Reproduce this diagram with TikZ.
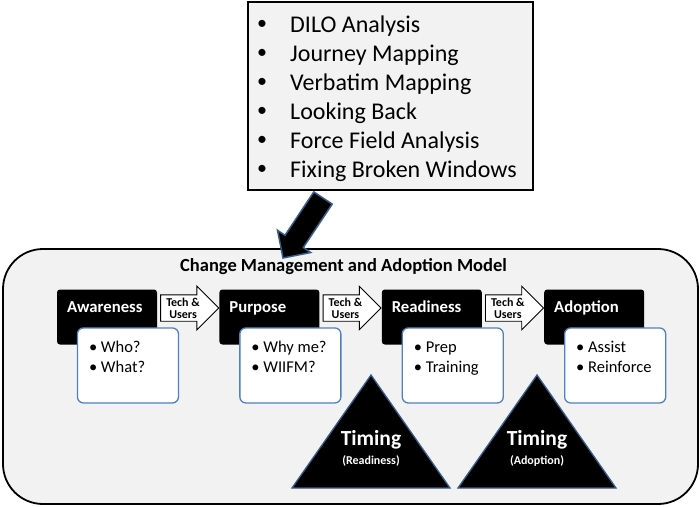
\documentclass[tikz,border=0pt]{standalone}
\usepackage{fontspec}
\setmainfont{Carlito}
\usetikzlibrary{positioning,shapes.arrows}
\definecolor{panel}{HTML}{F2F2F2}
\definecolor{edgeblue}{HTML}{4F81BD}
\definecolor{darkblue}{HTML}{385D8A}
\tikzset{
  stage/.style={fill=black,rounded corners=3pt,minimum width=100pt,minimum height=55pt,inner sep=0pt},
  stagetxt/.style={text=white,font=\fontsize{16.7}{19}\selectfont\bfseries,anchor=base west,inner sep=0pt},
  detail/.style={draw=edgeblue,line width=1.3pt,fill=white,rounded corners=6pt,minimum width=101pt,minimum height=75pt,inner sep=0pt,anchor=north west},
  detailtxt/.style={font=\fontsize{16.5}{20}\selectfont,align=left,anchor=north west,inner sep=0pt},
  flow/.style={single arrow,draw=black,fill=white,line width=0.9pt,minimum height=58pt,single arrow head extend=8.5pt,
    inner xsep=1pt,inner ysep=2.5pt,anchor=tail,font=\fontsize{12}{12}\selectfont\bfseries,align=center},
  timing/.style={fill=black,draw=darkblue,line width=1.3pt,line join=miter},
  tooltxt/.style={font=\fontsize{24}{29}\selectfont,anchor=west,inner sep=0pt}
}
\begin{document}
\begin{tikzpicture}[x=1pt,y=-1pt]
\useasboundingbox (0,0) rectangle (700,506);
% model panel
\node[draw,line width=1.8pt,fill=panel,rounded corners=40pt,minimum width=695pt,minimum height=255pt] (model) at (350.5,376.5) {};
\node[font=\fontsize{18.5}{22}\selectfont\bfseries,inner sep=0pt] (title) at (343.5,267) {Change Management and Adoption Model};
% stages
\node[stage] (aware) at (107,317) {};
\node[stage,right=62pt of aware] (purpose) {};
\node[stage,right=62pt of purpose] (ready) {};
\node[stage,right=62pt of ready] (adopt) {};
\node[stagetxt] (awaretxt) at ([shift={(10,23.5)}]aware.north west) {Awareness};
\node[stagetxt] (purposetxt) at ([shift={(10,23.5)}]purpose.north west) {Purpose};
\node[stagetxt] (readytxt) at ([shift={(10,23.5)}]ready.north west) {Readiness};
\node[stagetxt] (adopttxt) at ([shift={(10,23.5)}]adopt.north west) {Adoption};
% tech & users arrows
\foreach \s in {aware,purpose,ready}
  \node[flow] (flow\s) at ([shift={(3,-9)}]\s.east) {Tech \&\\Users};
% details
\node[detail] (awaredet) at ([shift={(20,38)}]aware.north west) {};
\node[detail] (purposedet) at ([shift={(20,38)}]purpose.north west) {};
\node[detail] (readydet) at ([shift={(20,38)}]ready.north west) {};
\node[detail] (adoptdet) at ([shift={(20,38)}]adopt.north west) {};
\node[detailtxt] at ([shift={(12,14)}]awaredet.north west) {\textbullet\ Who?\\\textbullet\ What?};
\node[detailtxt] at ([shift={(12,14)}]purposedet.north west) {\textbullet\ Why me?\\\textbullet\ WIIFM?};
\node[detailtxt] at ([shift={(12,14)}]readydet.north west) {\textbullet\ Prep\\\textbullet\ Training};
\node[detailtxt] at ([shift={(12,14)}]adoptdet.north west) {\textbullet\ Assist\\\textbullet\ Reinforce};
% timing triangles
\foreach \x/\nm/\lbl in {371/ready/Readiness,537/adopt/Adoption}{
  \draw[timing] (\x,375) -- (\x+79,488) -- (\x-79,488) -- cycle;
  \node[text=white,font=\fontsize{21.5}{24}\selectfont\bfseries,inner sep=0pt] (time\nm) at (\x,440) {Timing};
  \node[text=white,font=\fontsize{12}{14}\selectfont\bfseries,inner sep=0pt] (timesub\nm) at (\x,461) {(\lbl)};
}
% tools list
\node[draw,line width=1.6pt,fill=panel,minimum width=285pt,minimum height=188pt] (tools) at (390.5,96) {};
\foreach \t [count=\i] in {DILO Analysis,Journey Mapping,Verbatim Mapping,Looking Back,Force Field Analysis,Fixing Broken Windows}{
  \node[tooltxt] (tool\i) at (290,{26+29*(\i-1)}) {\t};
  \node[font=\fontsize{20}{24}\selectfont,inner sep=0pt] (dot\i) at (262,{25+29*(\i-1)}) {\textbullet};
}
% big arrow into the model
\draw[fill=black,draw=darkblue,line width=1.5pt,line join=miter]
  (332.2,204.1) -- (303.3,247.5) -- (310.7,252.5) -- (283,258) -- (277.5,230.3) -- (285.0,235.3) -- (313.8,191.9) -- cycle;
\end{tikzpicture}
\end{document}
